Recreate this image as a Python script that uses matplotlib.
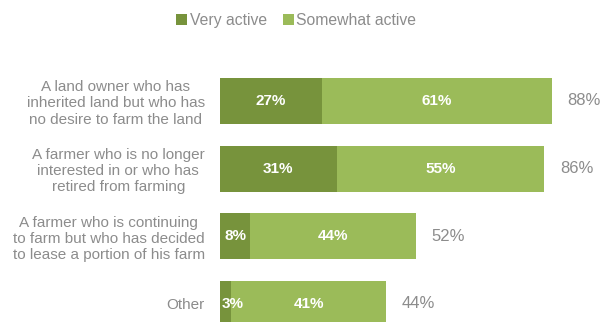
import numpy as np
import matplotlib.pyplot as plt

plt.rcParams['font.family'] = ['Liberation Sans', 'DejaVu Sans']

# survey answers, top to bottom
categories = ['A land owner who has\ninherited land but who has\nno desire to farm the land',
              'A farmer who is no longer\ninterested in or who has\nretired from farming',
              'A farmer who is continuing\nto farm but who has decided\nto lease a portion of his farm',
              'Other']
very_active = [27, 31, 8, 3]
somewhat_active = [61, 55, 44, 41]
totals = [88, 86, 52, 44]

dark = '#77933C'
light = '#9BBB59'
grey = '#8C8C8C'

fig = plt.figure(figsize=(6.02, 3.22), dpi=100)
ax = fig.add_axes([220/602, 0, 377/602, 1])

y = np.arange(len(categories))
h = 0.68
b1 = ax.barh(y, very_active, height=h, color=dark, label='Very active')
b2 = ax.barh(y, somewhat_active, left=very_active, height=h, color=light, label='Somewhat active')

for i in range(len(categories)):
    ax.text(max(very_active[i]/2, 3.4), y[i], f'{very_active[i]}%', ha='center', va='center',
            color='white', fontsize=11, fontweight='bold')
    ax.text(very_active[i] + somewhat_active[i]/2, y[i], f'{somewhat_active[i]}%',
            ha='center', va='center', color='white', fontsize=11, fontweight='bold')
    ax.text(totals[i] + 4.2, y[i], f'{totals[i]}%', ha='left', va='center',
            color=grey, fontsize=12)

ax.set_xlim(0, 100)
ax.set_ylim(3.266, -1.49)
ax.set_yticks(y)
ax.set_yticklabels(categories, fontsize=11, color=grey, linespacing=1.2)
for t in ax.get_yticklabels():
    t.set_multialignment('center')
ax.tick_params(axis='y', length=0, pad=11)
ax.set_xticks([])
for s in ax.spines.values():
    s.set_visible(False)

fig.legend(handles=[b1, b2], loc='center', bbox_to_anchor=(0.492, 0.935), ncol=2,
           frameon=False, fontsize=11.3, labelcolor=grey, handlelength=0.7,
           handleheight=0.7, handletextpad=0.15, columnspacing=1.0)

fig.savefig('out.png', dpi=100)
